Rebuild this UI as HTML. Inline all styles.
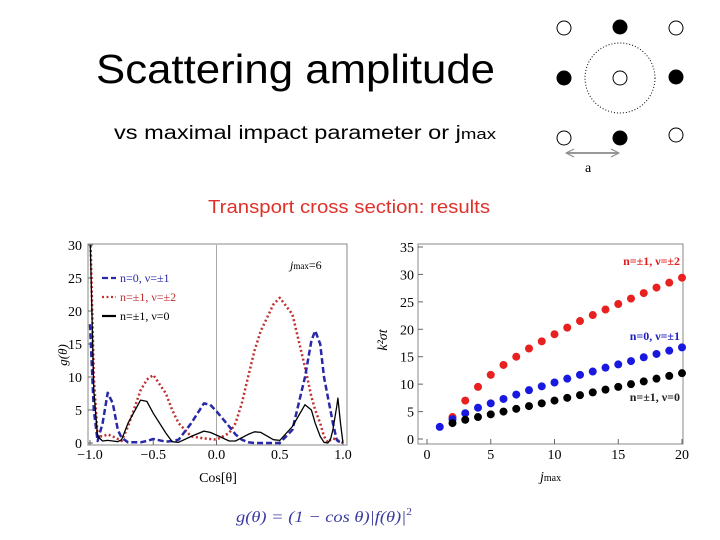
<!DOCTYPE html>
<html><head><meta charset="utf-8"><style>
body{margin:0;width:720px;height:540px;background:#fff;overflow:hidden;font-family:"Liberation Sans",sans-serif}
svg{position:absolute;left:0;top:0}
</style></head><body>
<svg width="720" height="540">
<text x="96" y="83" font-size="41" fill="#000" textLength="399" lengthAdjust="spacingAndGlyphs">Scattering amplitude</text>
<text x="114" y="139" font-size="19" fill="#000" textLength="382" lengthAdjust="spacingAndGlyphs">vs maximal impact parameter or j<tspan font-size="15">max</tspan></text>
<g stroke="#000" stroke-width="1">
<circle cx="564" cy="28" r="7" fill="#fff"/><circle cx="620" cy="27" r="7" fill="#000"/><circle cx="676" cy="28" r="7" fill="#fff"/>
<circle cx="564" cy="78" r="7" fill="#000"/><circle cx="620" cy="78" r="7" fill="#fff"/><circle cx="676" cy="77" r="7" fill="#000"/>
<circle cx="564" cy="138" r="7" fill="#fff"/><circle cx="620" cy="138" r="7" fill="#000"/><circle cx="676" cy="135" r="7" fill="#fff"/>
<circle cx="620" cy="78" r="35" fill="none" stroke-dasharray="1,2"/>
<line x1="567" y1="153" x2="618" y2="153" stroke="#999" stroke-width="2"/>
<path d="M574 149L566 153L574 157M611 149L619 153L611 157" fill="none" stroke="#888"/>
<text x="585" y="172" font-size="14" stroke="none" font-family="Liberation Serif,serif">a</text>
</g>
<text x="208" y="213" font-size="18" fill="#e0302a" textLength="282" lengthAdjust="spacingAndGlyphs">Transport cross section: results</text>
<g id="left"></g>
<g id="right"></g>
<text x="236" y="522" font-size="16" fill="#3a3aa0" font-family="Liberation Serif,serif" font-style="italic" textLength="176" lengthAdjust="spacingAndGlyphs">g(θ) = (1 − cos θ)|f(θ)|<tspan font-size="10" dy="-7" font-style="normal">2</tspan></text>
</svg>
<script>
const NS="http://www.w3.org/2000/svg";
// Left chart data
const leftX=[-1,-0.97,-0.94,-0.9,-0.86,-0.82,-0.78,-0.75,-0.7,-0.6,-0.55,-0.5,-0.4,-0.35,-0.3,-0.2,-0.1,-0.05,0,0.1,0.15,0.2,0.25,0.3,0.35,0.45,0.5,0.6,0.7,0.75,0.78,0.82,0.85,0.88,0.9,0.92,0.95,0.96,0.98,1];
const blackG=[32,8,1,0.3,0.4,0.3,0.2,0.5,3,6.5,6.3,4.5,1.5,0.2,0.1,1,1.8,1.6,1.2,0.3,0.3,0.8,1.3,1.7,1.6,0.5,0.4,2.5,5.8,5,3,1,0.1,0,0.5,2,5.5,6.8,3,0];
const blueG=[18,5,0.3,3,7.6,6,2,0.8,0.1,0.1,0.3,0.6,0.2,0.3,0.5,3,6,5.8,4.8,2.5,1.3,0.5,0.1,0,0,0,0,2,10,15.5,17,15,10,7,5,3,0.5,0.3,0.1,0];
const redG=[34,10,1,1,1.3,1,0.6,0.3,2.5,8,9.6,10.3,7.5,5,3,1,0.7,0.6,0.5,1.5,3,6,10,14,17,21,22,19.5,11.5,7,5,3,1,0.1,0.5,0.7,0.5,0.4,0.2,0];
const leftXTicks=[-1,-0.5,0,0.5,1], leftXLabels=["−1.0","−0.5","0.0","0.5","1.0"];
const leftYTicks=[0,5,10,15,20,25,30];
// Right chart data
const jBlue=[1,2,3,4,5,6,7,8,9,10,11,12,13,14,15,16,17,18,19,20];
const sBlue=[2.2,3.6,4.7,5.7,6.5,7.3,8.1,8.9,9.6,10.3,11,11.7,12.3,13,13.6,14.2,14.9,15.5,16.1,16.7];
const jRB=[2,3,4,5,6,7,8,9,10,11,12,13,14,15,16,17,18,19,20];
const sRed=[4,7,9.5,11.7,13.5,15,16.5,17.8,19.1,20.3,21.5,22.6,23.6,24.6,25.6,26.6,27.6,28.5,29.4];
const sBlack=[2.9,3.5,4.0,4.5,5.0,5.5,6.0,6.5,7.0,7.5,8.0,8.5,9.0,9.5,10.0,10.5,11.0,11.5,12.0];
const rightXTicks=[0,5,10,15,20], rightYTicks=[0,5,10,15,20,25,30,35];

function mk(tag,attrs,parent,txt){const e=document.createElementNS(NS,tag);for(const k in attrs)e.setAttribute(k,attrs[k]);if(txt!==undefined)e.textContent=txt;parent.appendChild(e);return e;}
const serif="Liberation Serif,serif";
// LEFT
const L=document.getElementById('left');
const lx=v=>90+(v+1)/2*253, ly=v=>443-v/30*198;
const cp=mk('clipPath',{id:'lc'},L);mk('rect',{x:88,y:245,width:259,height:200},cp);
let fr=mk('rect',{x:88,y:244,width:259,height:201,fill:'none',stroke:'#888'},L);

mk('line',{x1:lx(0),y1:245,x2:lx(0),y2:445,stroke:'#aaa'},L);
leftXTicks.forEach((t,i)=>{mk('line',{x1:lx(t),y1:445,x2:lx(t),y2:440,stroke:'#666'},L);
 const e=mk('text',{x:lx(t),y:459,'font-size':14,'text-anchor':'middle','font-family':serif},L,leftXLabels[i]);
 });
leftYTicks.forEach(t=>{mk('line',{x1:88,y1:ly(t),x2:93,y2:ly(t),stroke:'#666'},L);
 const e=mk('text',{x:82,y:ly(t)+5,'font-size':14,'text-anchor':'end','font-family':serif},L,String(t));
 });
let t1=mk('text',{x:218,y:482,'font-size':14,'text-anchor':'middle','font-family':serif},L,'Cos[θ]');

let t2=mk('text',{x:0,y:0,'font-size':13,'font-family':serif,'font-style':'italic',transform:'translate(67,355) rotate(-90)','text-anchor':'middle'},L,'g(θ)');

function curve(arr,color,dash,w,name){const d=leftX.map((x,i)=>(i?'L':'M')+lx(x).toFixed(1)+' '+ly(arr[i]).toFixed(1)).join('');
 const p=mk('path',{d:d,fill:'none',stroke:color,'stroke-width':w,'stroke-dasharray':dash,'clip-path':'url(#lc)','stroke-linejoin':'round'},L);
 }
curve(redG,'#c03030','2,2.5',2.5,'red-dotted-curve');
curve(blueG,'#2828a8','6,3',2.5,'blue-dashed-curve');
curve(blackG,'#000','',1.3,'black-solid-curve');
const leg=[['#2828a8','6,3','n=0, ν=±1',282],['#c03030','2,2.5','n=±1, ν=±2',301],['#000','','n=±1, ν=0',320]];
leg.forEach(l=>{const g=mk('g',{},L);
 mk('line',{x1:102,y1:l[3]-4,x2:116,y2:l[3]-4,stroke:l[0],'stroke-width':2.2,'stroke-dasharray':l[1]},g);
 mk('text',{x:120,y:l[3],'font-size':12,fill:l[0],'font-family':serif},g,l[2]);});
let jm=mk('text',{x:290,y:269,'font-size':12,'font-family':serif},L);
jm.innerHTML='<tspan font-style="italic">j</tspan><tspan font-size="9">max</tspan>=6';

// RIGHT
const R=document.getElementById('right');
const rx=v=>427+v/20*255, ry=v=>439-v/35*192;
fr=mk('rect',{x:418,y:244,width:265,height:200,fill:'none',stroke:'#888'},R);

rightXTicks.forEach(t=>{mk('line',{x1:rx(t),y1:444,x2:rx(t),y2:439,stroke:'#666'},R);
 const e=mk('text',{x:rx(t),y:459,'font-size':14,'text-anchor':'middle','font-family':serif},R,String(t));
 });
rightYTicks.forEach(t=>{mk('line',{x1:418,y1:ry(t),x2:423,y2:ry(t),stroke:'#666'},R);
 const e=mk('text',{x:414,y:ry(t)+5,'font-size':14,'text-anchor':'end','font-family':serif},R,String(t));
 });
let rt=mk('text',{x:540,y:481,'font-size':14,'font-family':serif},R);rt.innerHTML='<tspan font-style="italic">j</tspan><tspan font-size="10">max</tspan>';

let ryt=mk('text',{x:0,y:0,'font-size':14,'font-family':serif,'font-style':'italic',transform:'translate(387,340) rotate(-90)','text-anchor':'middle'},R,'k²σt');

function dots(xs,ys,color,name){xs.forEach((x,i)=>{const c=mk('circle',{cx:rx(x),cy:ry(ys[i]),r:4,fill:color},R);
 });}
dots(jRB,sRed,'#e82020','red-point');
dots(jBlue,sBlue,'#1818e0','blue-point');
dots(jRB,sBlack,'#000','black-point');
[['n=±1, ν=±2',265,'#e02020'],['n=0, ν=±1',340,'#2020c0'],['n=±1, ν=0',401,'#222']].forEach(l=>{
 const e=mk('text',{x:680,y:l[1],'font-size':12,fill:l[2],'text-anchor':'end','font-family':serif,'font-weight':'bold'},R,l[0]);
 });
</script>
</body></html>
